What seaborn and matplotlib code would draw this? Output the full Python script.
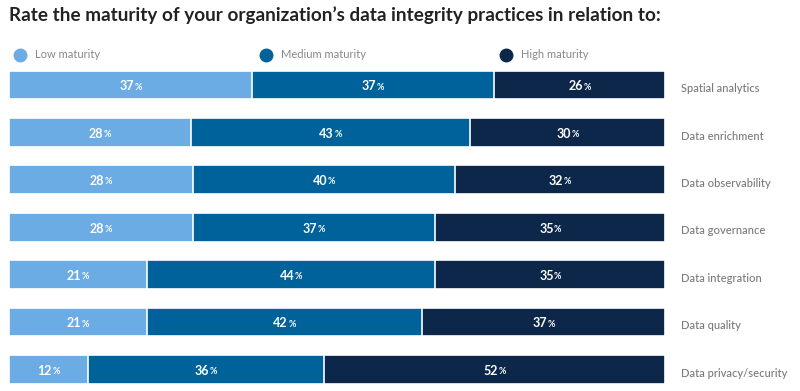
import matplotlib.pyplot as plt
import matplotlib.transforms as mtransforms
import seaborn as sns
import pandas as pd
from matplotlib.lines import Line2D

topics = ['Spatial analytics', 'Data enrichment', 'Data observability', 'Data governance',
          'Data integration', 'Data quality', 'Data privacy/security']
low = [37, 28, 28, 28, 21, 21, 12]
medium = [37, 43, 40, 37, 44, 42, 36]
high = [26, 30, 32, 35, 35, 37, 52]

levels = ['Low maturity', 'Medium maturity', 'High maturity']
colors = ['#6CACE4', '#00629B', '#0C2749']

sns.set_theme(style='white')
plt.rcParams['font.family'] = ['Lato', 'DejaVu Sans']

df = pd.DataFrame({'topic': topics, 'low': low, 'medium': medium, 'high': high})
total = df['low'] + df['medium'] + df['high']
df['c_low'] = df['low'] / total * 100
df['c_med'] = (df['low'] + df['medium']) / total * 100
df['c_high'] = 100.0

fig = plt.figure(figsize=(8, 3.91), dpi=100)
ax = fig.add_axes([9 / 800, 0, 656 / 800, 1 - 61.3 / 391])

# stacked bars: draw cumulative totals back to front
for col, c in zip(['c_high', 'c_med', 'c_low'], colors[::-1]):
    sns.barplot(data=df, x=col, y='topic', orient='h', color=c, width=0.61,
                edgecolor='white', linewidth=1.2, saturation=1, ax=ax)

ax.set_xlim(0, 100)
ax.set_ylim(6.456, -0.5)
ax.set_xlabel('')
ax.set_ylabel('')
ax.set_xticks([])
ax.yaxis.tick_right()
ax.tick_params(axis='y', length=0, pad=11.5, labelsize=8, labelcolor='#7a7a7a')
shift = mtransforms.ScaledTranslation(0, -2 / 72, fig.dpi_scale_trans)
for lab in ax.get_yticklabels():
    lab.set_fontweight('medium')
    lab.set_transform(lab.get_transform() + shift)
for s in ax.spines.values():
    s.set_visible(False)

# value labels
for i, row in df.iterrows():
    starts = [0, row['c_low'], row['c_med']]
    ends = [row['c_low'], row['c_med'], row['c_high']]
    vals = [row['low'], row['medium'], row['high']]
    for s0, s1, v in zip(starts, ends, vals):
        xc = (s0 + s1) / 2
        ax.annotate(f'{v}', (xc, i), xytext=(2.5, -1), textcoords='offset points',
                    ha='right', va='center', color='white', fontsize=9, fontweight='bold')
        ax.annotate('%', (xc, i), xytext=(2.8, -1.5), textcoords='offset points',
                    ha='left', va='center', color='white', fontsize=6.5, fontweight='bold')

fig.text(9 / 800, 1 - 15 / 391, 'Rate the maturity of your organization\u2019s data integrity practices in relation to:',
         ha='left', va='center', fontsize=13.6, fontweight='bold', color='#222222')

# legend entries placed individually
for lvl, c, xpx in zip(levels, colors, [13, 259, 499]):
    h = Line2D([0], [0], marker='o', linestyle='', markersize=9, markerfacecolor=c, markeredgecolor=c)
    fig.legend([h], [lvl], loc='center left', bbox_to_anchor=(xpx / 800, 1 - 55 / 391),
               frameon=False, fontsize=8, labelcolor='#888888', handletextpad=0.75,
               handlelength=1.2, borderaxespad=0, borderpad=0)

fig.savefig('out.png', dpi=100)
